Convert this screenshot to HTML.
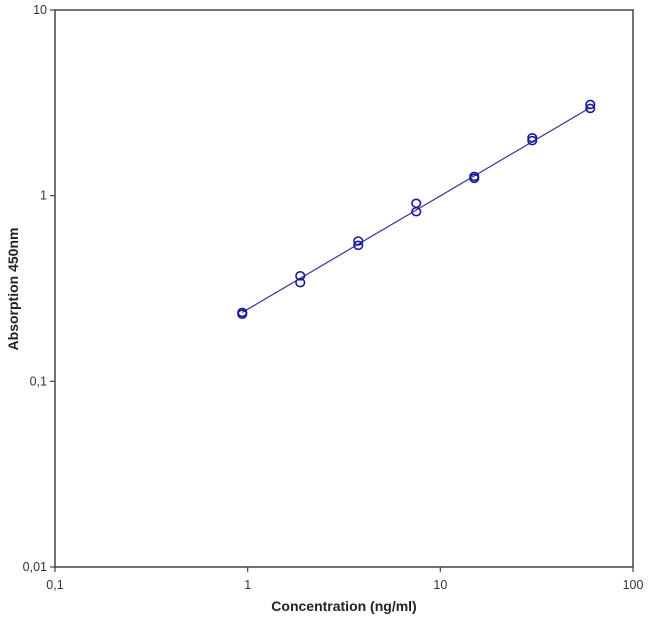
<!DOCTYPE html>
<html><head><meta charset="utf-8"><style>
body{margin:0;background:#fff;}
svg text{font-family:"Liberation Sans",sans-serif;}
</style></head><body>
<svg width="650" height="622" viewBox="0 0 650 622">
<g id="axes"></g>
<g id="marks"></g>
<text x="344" y="611" text-anchor="middle" font-size="14" font-weight="bold" fill="#222">Concentration (ng/ml)</text>
<text transform="translate(18,289) rotate(-90)" text-anchor="middle" font-size="14" font-weight="bold" fill="#222">Absorption 450nm</text>
</svg>
<script>
const concentrations = [0.9375, 1.875, 3.75, 7.5, 15, 30, 60];
const replicateA = [0.235, 0.37, 0.57, 0.91, 1.27, 2.05, 3.1];
const replicateB = [0.23, 0.34, 0.54, 0.82, 1.24, 1.98, 2.95];
const fitLine = [0.235, 2.98];
const xTicks = [0.1, 1, 10, 100];
const xTickLabels = ["0,1", "1", "10", "100"];
const yTicks = [0.01, 0.1, 1, 10];
const yTickLabels = ["0,01", "0,1", "1", "10"];

const L=55,R=633,T=10,B=567;
const NS="http://www.w3.org/2000/svg";
function xs(v){return L+(Math.log10(v)+1)/3*(R-L);}
function ys(v){return B-(Math.log10(v)+2)/3*(B-T);}
function mk(tag,attrs,parent){const e=document.createElementNS(NS,tag);for(const k in attrs)e.setAttribute(k,attrs[k]);parent.appendChild(e);return e;}
const ax=document.getElementById('axes'), mg=document.getElementById('marks');
let f=mk('rect',{x:L,y:T,width:R-L,height:B-T,fill:'none',stroke:'#444','stroke-width':1.5},ax);


xTicks.forEach((t,i)=>{
  const x=xs(t);
  mk('line',{x1:x,x2:x,y1:B,y2:B+5,stroke:'#444','stroke-width':1.2},ax);
  const tx=mk('text',{x:x,y:B+22,'text-anchor':'middle','font-size':12.5,fill:'#333'},ax);
  tx.textContent=xTickLabels[i];
  
  
});
yTicks.forEach((t,i)=>{
  const y=ys(t);
  mk('line',{x1:L-5,x2:L,y1:y,y2:y,stroke:'#444','stroke-width':1.2},ax);
  const tx=mk('text',{x:L-8,y:y+4,'text-anchor':'end','font-size':12.5,fill:'#333'},ax);
  tx.textContent=yTickLabels[i];
  
  
});
const ln=mk('line',{x1:xs(concentrations[0]),y1:ys(fitLine[0]),x2:xs(concentrations[concentrations.length-1]),y2:ys(fitLine[1]),stroke:'#333399','stroke-width':1.2},mg);


[replicateA,replicateB].forEach(arr=>{
  arr.forEach((v,i)=>{
    const c=mk('ellipse',{cx:xs(concentrations[i]),cy:ys(v),rx:4.3,ry:4,fill:'none',stroke:'#1a1a99','stroke-width':1.6},mg);
    
    
  });
});
</script>
</body></html>
